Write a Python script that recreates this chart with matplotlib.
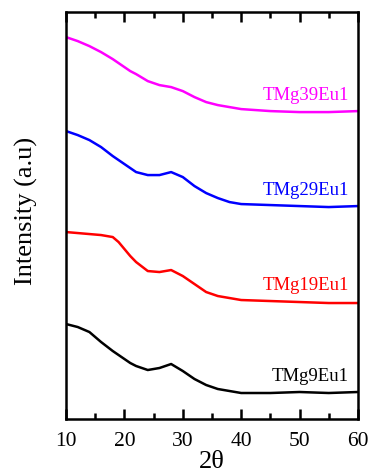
import numpy as np
import matplotlib.pyplot as plt
from matplotlib.ticker import MultipleLocator

plt.rcParams['font.family'] = ['Liberation Serif', 'DejaVu Serif']

# 2theta positions
two_theta = [10, 12, 14, 16, 18, 19, 20, 21, 22, 24, 26, 28, 30, 32, 34, 36, 38, 40, 45, 50, 55, 60]

# intensities (arbitrary units, stacked)
tmg9 = [95, 92, 87, 77, 68, 64, 60, 56, 53, 49, 51, 55, 48, 40, 34, 30, 28, 26, 26, 27, 26, 27]
tmg19 = [187, 186, 185, 184, 182, 177, 170, 163, 157, 148, 147, 149, 143, 135, 127, 123, 121, 119, 118, 117, 116, 116]
tmg29 = [288, 284, 279, 272, 263, 259, 255, 251, 247, 244, 244, 247, 242, 233, 226, 221, 217, 215, 214, 213, 212, 213]
tmg39 = [382, 378, 373, 367, 360, 356, 352, 348, 345, 338, 334, 332, 328, 322, 317, 314, 312, 310, 308, 307, 307, 308]

labels = ['TMg9Eu1', 'TMg19Eu1', 'TMg29Eu1', 'TMg39Eu1']
colors = ['black', 'red', 'blue', 'magenta']
label_y = [44, 135, 230, 325]

fig = plt.figure(figsize=(3.69, 4.77), dpi=100)
ax = fig.add_axes([0.179, 0.1195, 0.791, 0.853])

for series, name, c, ly in zip([tmg9, tmg19, tmg29, tmg39], labels, colors, label_y):
    ax.plot(two_theta, series, color=c, lw=1.8)
    ax.text(58.4, ly, name, color=c, fontsize=13.5, ha='right', va='center')

ax.set_xlim(10, 60)
ax.set_ylim(0, 407)
ax.xaxis.set_major_locator(MultipleLocator(10))
ax.xaxis.set_minor_locator(MultipleLocator(5))
ax.tick_params(axis='x', which='both', direction='in', top=True, width=1.8, labelsize=15.5, pad=9)
ax.tick_params(axis='x', which='major', length=7)
ax.tick_params(axis='x', which='minor', length=4)
ax.set_yticks([])
for s in ax.spines.values():
    s.set_linewidth(1.8)

ax.set_xlabel('2θ', fontsize=19, labelpad=0)
ax.set_ylabel('Intensity (a.u)', fontsize=19)
ax.yaxis.set_label_coords(-0.095, 0.515)

fig.savefig('out.png', dpi=100)
